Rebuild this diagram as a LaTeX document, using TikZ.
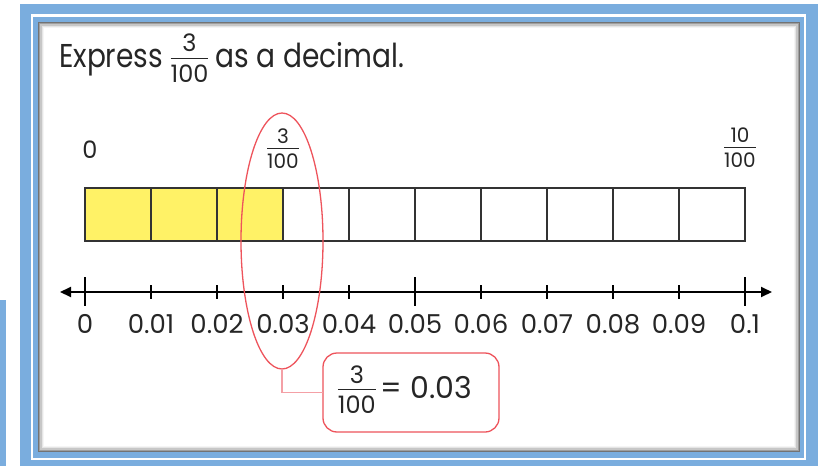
\documentclass[tikz,border=0pt]{standalone}
\usepackage{fontspec}
\setmainfont{Poppins}
\newfontfamily\titlefont[FakeStretch=0.85]{Poppins}
\usepackage{xcolor}
\usepackage{tikz}
\usetikzlibrary{shapes.geometric, arrows.meta}
\definecolor{frameblue}{RGB}{122,173,222}
\definecolor{cellyellow}{RGB}{255,242,102}
\definecolor{ringred}{RGB}{238,84,92}
\definecolor{leadpink}{RGB}{244,160,166}
\tikzstyle{cell} = [
    draw=black!80,
    line width=1.6pt
]
\tikzstyle{smalltick} = [
    line width=1.2pt
]
\tikzstyle{bigtick} = [
    line width=2pt
]
\tikzstyle{axislabel} = [
    font=\fontsize{26}{30}\selectfont,
    text=black!85
]
\newcommand{\pfrac}[3]{{\rmfamily\fontsize{#1}{#1}\selectfont
\setlength{\arrayrulewidth}{1.1pt}\renewcommand{\arraystretch}{0.8}%
\begin{tabular}{@{}c@{}}#2\\\hline\rule{0pt}{0.98em}#3\end{tabular}}}

\begin{document}
\begin{tikzpicture}[x=1pt,y=-1pt]

\useasboundingbox (0,0) rectangle (823,466);

% frame
\fill[frameblue] (0,300) rectangle (6,466);

\fill[frameblue] (20,4) rectangle (818,466);

\draw[white, line width=2.5pt] (32,15.5) rectangle (805,459);

\fill[white] (38,22) rectangle (800,452);

\draw[black!55, line width=1.2pt] (38.6,22.6) rectangle (799.4,451.4);

\draw[black!38, line width=1.2pt] (39.8,23.8) rectangle (798.2,450.2);

\draw[black!22, line width=1.2pt] (41,25) rectangle (797,449);

\draw[black!10, line width=1.2pt] (42.2,26.2) rectangle (795.8,447.8);

\draw[black!4, line width=1.2pt] (43.4,27.4) rectangle (794.6,446.6);

\node[anchor=west, text=black!85, inner sep=0pt] (title) at (59,61)
{\titlefont\fontsize{33}{38}\selectfont Express \pfrac{24}{3}{100} as a decimal.};

% fraction bar
\draw[cell, fill=cellyellow] (85,188) rectangle (151,241);

\draw[cell, fill=cellyellow] (151,188) rectangle (217,241);

\draw[cell, fill=cellyellow] (217,188) rectangle (283,241);

\draw[cell] (283,188) rectangle (349,241);

\draw[cell] (349,188) rectangle (415,241);

\draw[cell] (415,188) rectangle (481,241);

\draw[cell] (481,188) rectangle (547,241);

\draw[cell] (547,188) rectangle (613,241);

\draw[cell] (613,188) rectangle (679,241);

\draw[cell] (679,188) rectangle (745,241);

\node[text=black!85, font=\fontsize{24}{28}\selectfont] (zero) at (90,150) {0};

\node[text=black!85] (three) at (283,151) {\pfrac{20}{3}{100}};

\node[text=black!85] (ten) at (740,150) {\pfrac{20}{10}{100}};

% number line
\draw[line width=2pt, {Triangle[length=11pt,width=10pt]}-{Triangle[length=11pt,width=10pt]}]
(60,292) -- (772,292);

\draw[bigtick] (85,277) -- (85,306);

\draw[smalltick] (151,285) -- (151,299);

\draw[smalltick] (217,285) -- (217,299);

\draw[smalltick] (283,285) -- (283,299);

\draw[smalltick] (349,285) -- (349,299);

\draw[bigtick] (415,277) -- (415,306);

\draw[smalltick] (481,285) -- (481,299);

\draw[smalltick] (547,285) -- (547,299);

\draw[smalltick] (613,285) -- (613,299);

\draw[smalltick] (679,285) -- (679,299);

\draw[bigtick] (745,277) -- (745,306);

\node[axislabel] (l0) at (85,324) {0};

\node[axislabel] (l1) at (151,324) {0.01};

\node[axislabel] (l2) at (217,324) {0.02};

\node[axislabel] (l3) at (283,324) {0.03};

\node[axislabel] (l4) at (349,324) {0.04};

\node[axislabel] (l5) at (415,324) {0.05};

\node[axislabel] (l6) at (481,324) {0.06};

\node[axislabel] (l7) at (547,324) {0.07};

\node[axislabel] (l8) at (613,324) {0.08};

\node[axislabel] (l9) at (679,324) {0.09};

\node[axislabel] (l10) at (745,324) {0.1};

% highlight
\node[draw=ringred, line width=1.3pt, ellipse, minimum width=82pt,
minimum height=256pt, inner sep=0pt, outer sep=0pt] (ring) at (282,241) {};

\node[draw=ringred, line width=1.3pt, rounded corners=14pt, minimum width=176pt,
minimum height=79pt, inner sep=0pt, outer sep=0pt, text=black!85] (answer) at (411,392.5)
{\pfrac{24}{3}{100}\hspace{5pt}\fontsize{30}{34}\selectfont = 0.03\hspace*{12pt}};

\draw[leadpink, line width=1.3pt] (ring.south) |- (answer.west);

\end{tikzpicture}
\end{document}
